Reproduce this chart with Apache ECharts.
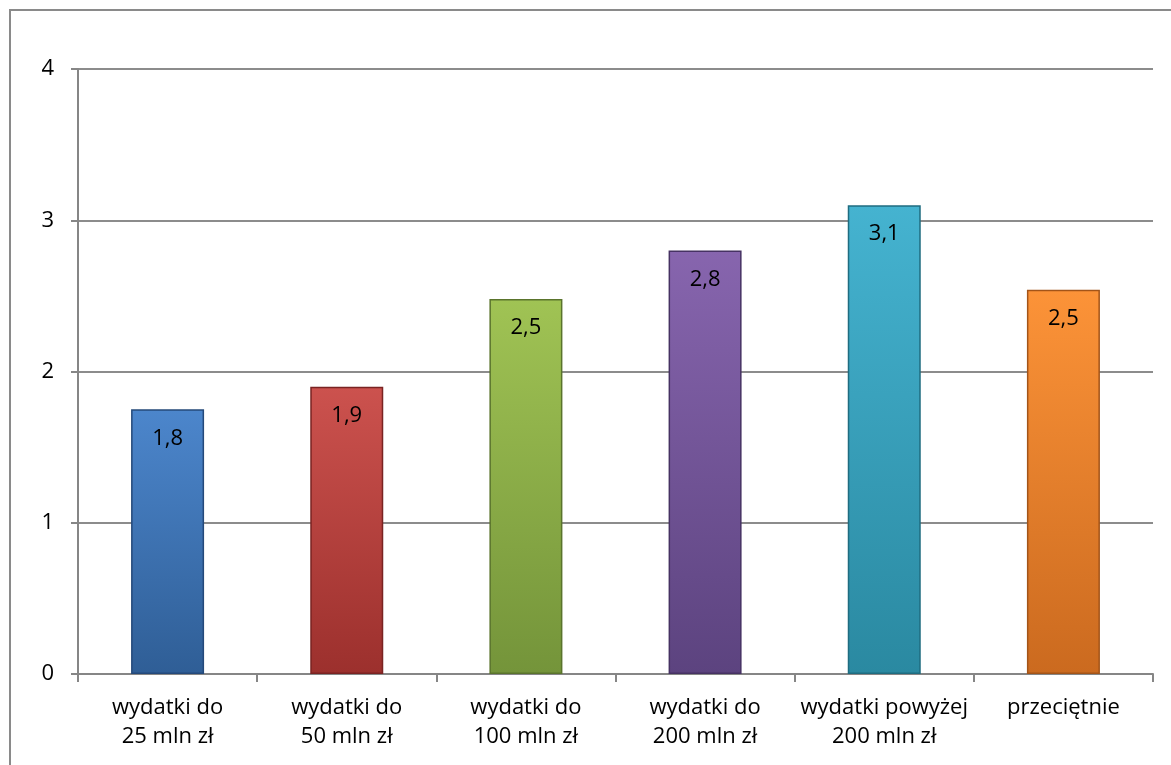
<!DOCTYPE html>
<html><head><meta charset="utf-8">
<script src="https://cdn.jsdelivr.net/npm/echarts@6/dist/echarts.min.js"></script>
<style>html,body{margin:0;padding:0;background:#fff}#c{width:1171px;height:765px}</style>
</head><body><div id="c"></div>
<script>
const categories = ["wydatki do\n25 mln zł","wydatki do\n50 mln zł","wydatki do\n100 mln zł","wydatki do\n200 mln zł","wydatki powyżej\n200 mln zł","przeciętnie"];
const values = [1.75, 1.9, 2.48, 2.8, 3.1, 2.54];
const yTicks = [0, 1, 2, 3, 4];
const colors = [
  ["#4c86cc","#2f5e96","#24497a"],
  ["#cc524e","#9c302d","#7a2322"],
  ["#a0c354","#74943a","#5a742c"],
  ["#8765ae","#5c437f","#463263"],
  ["#45b3d0","#2a89a1","#1f6c80"],
  ["#fc9338","#cb6a1f","#a35418"]
];
const chart = echarts.init(document.getElementById('c'), null, {renderer:'canvas'});
const font = '"Open Sans", "Liberation Sans", sans-serif';
chart.setOption({
  animation:false,
  graphic:[{type:'rect',shape:{x:10,y:10,width:1300,height:900},style:{fill:'none',stroke:'#8a8a8a',lineWidth:2},z:-1}],
  grid:{left:78,right:18,top:69,bottom:91},
  xAxis:{type:'category',data:categories,
    axisLine:{lineStyle:{color:'#868686',width:2}},
    axisTick:{show:true,length:8,lineStyle:{color:'#868686',width:2}},
    axisLabel:{interval:0,color:'#000',fontSize:22,fontFamily:font,lineHeight:29,margin:19}},
  yAxis:{type:'value',min:0,max:4,interval:1,
    axisLine:{show:true,lineStyle:{color:'#868686',width:2}},
    axisTick:{show:true,length:7,lineStyle:{color:'#868686',width:2}},
    splitLine:{lineStyle:{color:'#8c8c8c',width:2}},
    axisLabel:{color:'#000',fontSize:22,fontFamily:font,margin:24,
      formatter:v=>yTicks.includes(v)?String(v):''}},
  series:[{type:'bar',barWidth:73,
    data:values.map((v,i)=>({value:v,itemStyle:{
      color:new echarts.graphic.LinearGradient(0,0,0,1,[
        {offset:0,color:colors[i][0]},{offset:1,color:colors[i][1]}]),
      borderColor:colors[i][2],borderWidth:1.5}})),
    label:{show:true,position:'insideTop',distance:18,color:'#000',fontSize:22,fontFamily:font,
      formatter:p=>p.value.toFixed(1).replace('.',',')}
  }]
});
</script></body></html>
